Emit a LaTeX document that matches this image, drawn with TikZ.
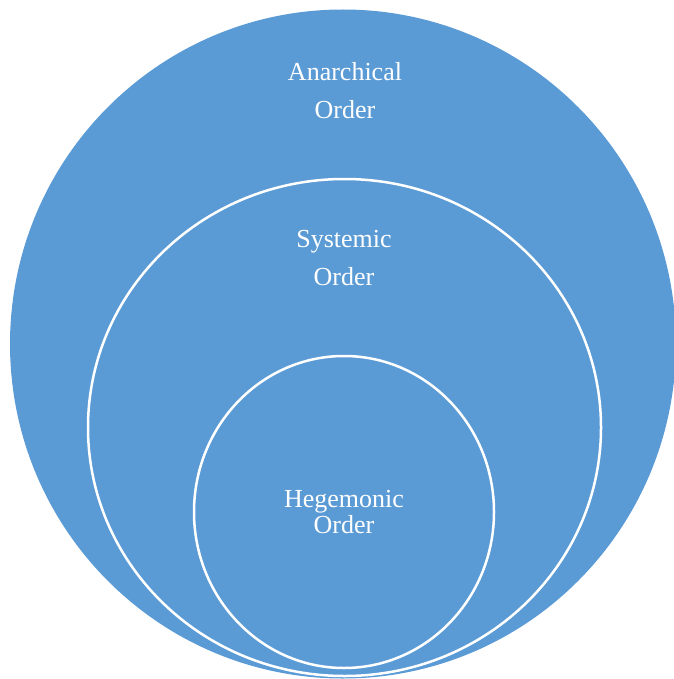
\documentclass[tikz,border=0pt]{standalone}
\usepackage{fontspec}
\setmainfont{Liberation Serif}
\usetikzlibrary{shapes.geometric,positioning}
\definecolor{orderblue}{HTML}{5B9BD5}

\begin{document}
\begin{tikzpicture}[
    x=1pt, y=-1pt,
    ring/.style={ellipse, draw=white, line width=2.5pt, fill=orderblue, inner sep=0pt},
    lbl/.style={text=white, align=center, anchor=base, font=\fontsize{26}{38}\selectfont}
]
    \useasboundingbox (0,0) rectangle (673,679);

    % Outer
    \node[ring, draw=none, minimum width=666pt, minimum height=669pt] (anarchical) at (343,344) {};
    \node[lbl] (anarchicalText) at (345,119) {Anarchical\\Order};

    % Middle
    \node[ring, minimum width=513pt, minimum height=497pt] (systemic) at (344.5,427.5) {};
    \node[lbl] (systemicText) at (344,285) {Systemic\\Order};

    % Inner
    \node[ring, minimum width=300pt, minimum height=312pt] (hegemonic) at (344,512) {};
    \node[lbl, font=\fontsize{26}{26}\selectfont] (hegemonicText) at (344,533) {Hegemonic\\Order};
\end{tikzpicture}
\end{document}
